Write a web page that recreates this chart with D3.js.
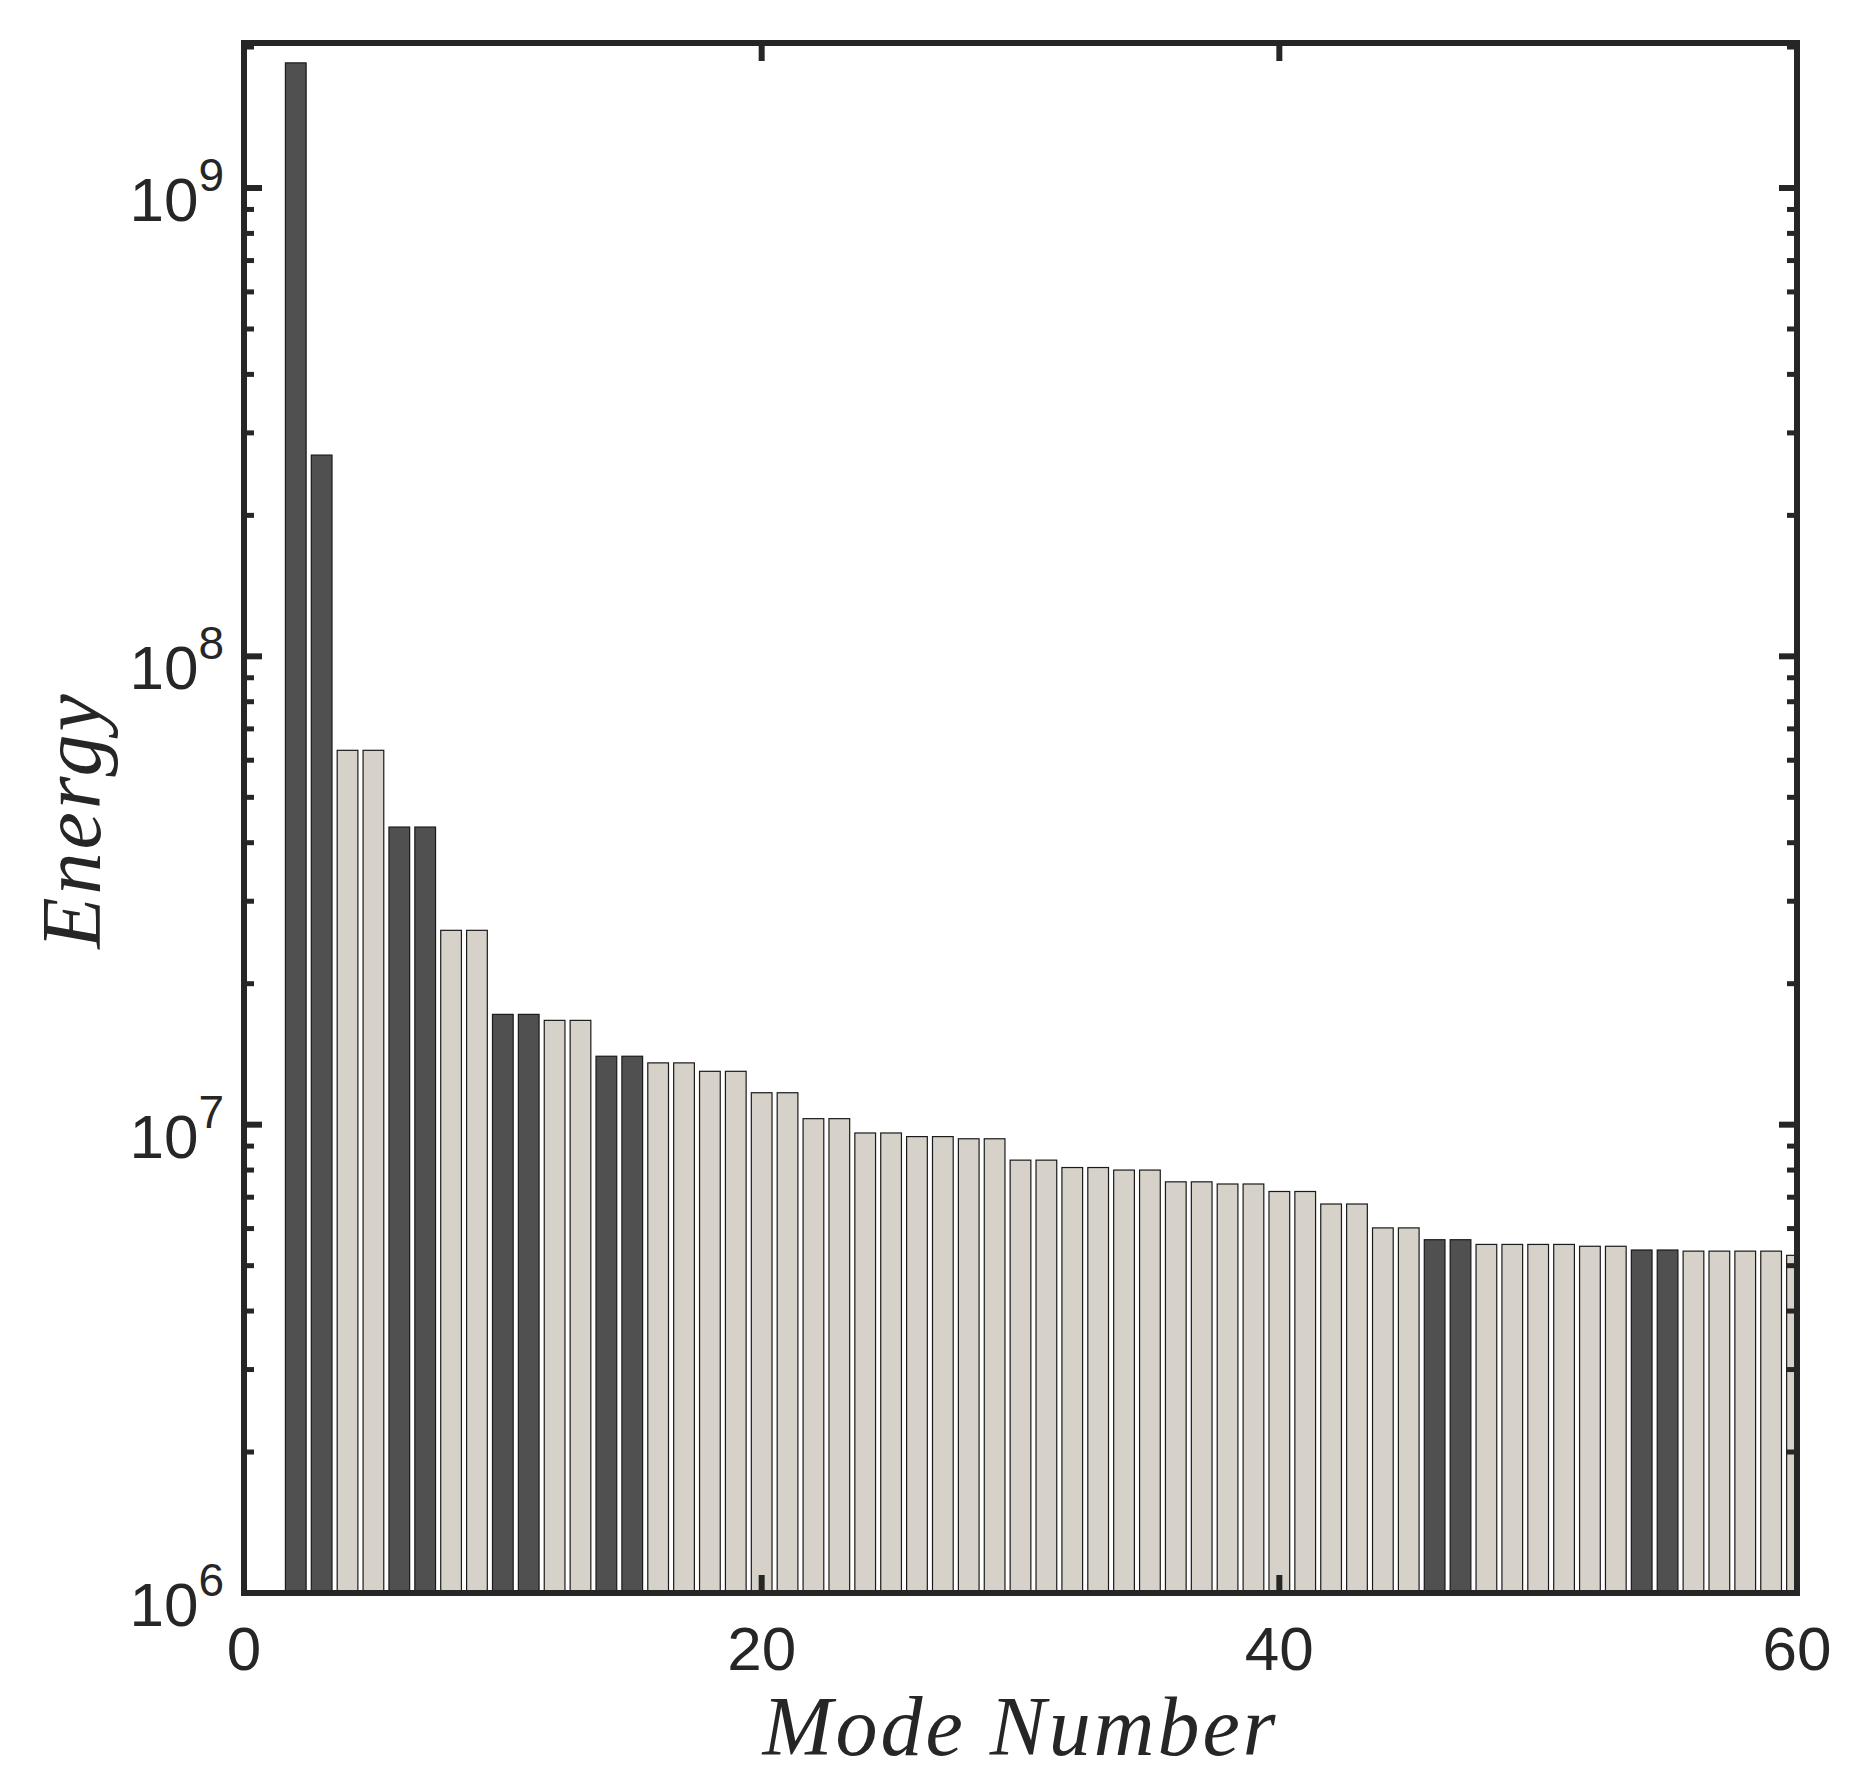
<!DOCTYPE html>
<html><head><meta charset="utf-8">
<script src="https://cdn.jsdelivr.net/npm/d3@7"></script>
<style>body{margin:0;background:#fff}</style></head>
<body><svg id="c" width="1855" height="1785"></svg>
<script>
const modes = d3.range(2, 61);
const energy = [1.85e9,2.69e8,6.3e7,6.3e7,4.32e7,4.32e7,2.6e7,2.6e7,1.72e7,1.72e7,1.67e7,1.67e7,1.40e7,1.40e7,1.355e7,1.355e7,1.30e7,1.30e7,1.17e7,1.17e7,1.03e7,1.03e7,9.6e6,9.6e6,9.43e6,9.43e6,9.33e6,9.33e6,8.4e6,8.4e6,8.1e6,8.1e6,8.0e6,8.0e6,7.55e6,7.55e6,7.47e6,7.47e6,7.2e6,7.2e6,6.77e6,6.77e6,6.02e6,6.02e6,5.68e6,5.68e6,5.55e6,5.55e6,5.55e6,5.55e6,5.5e6,5.5e6,5.4e6,5.4e6,5.37e6,5.37e6,5.37e6,5.37e6,5.26e6];
const darkModes = [2,3,6,7,10,11,14,15,46,47,54,55];
const xTicks = [0,20,40,60];
const yTicks = [1e6,1e7,1e8,1e9];

const L=244,R=1797,T=43,B=1593;
const svg=d3.select("#c");
const x=d3.scaleLinear().domain([0,60]).range([L,R]);
const y=d3.scaleLog().domain([1e6,2.04e9]).range([B,T]);
svg.append("defs").append("clipPath").attr("id","cl").append("rect").attr("x",L).attr("y",T).attr("width",R-L).attr("height",B-T);
const bw=(x(1)-x(0))*0.8;
svg.append("g").attr("clip-path","url(#cl)").selectAll("rect").data(modes).join("rect")
 .attr("x",d=>x(d)-bw/2).attr("width",bw)
 .attr("y",(d,i)=>y(energy[i])).attr("height",(d,i)=>B-y(energy[i]))
 .attr("fill",d=>darkModes.includes(d)?"#505050":"#d6d2c9")
 .attr("stroke","#1a1a1a").attr("stroke-width",1.2);
const col="#262626";
const g=svg.append("g");
const minors=[];
for(let e=6;e<=9;e++)for(let k=2;k<=9;k++){const v=k*Math.pow(10,e);if(v<=2.04e9)minors.push(v);}
minors.forEach(v=>{
 g.append("line").attr("x1",L).attr("x2",L+10).attr("y1",y(v)).attr("y2",y(v)).attr("stroke",col).attr("stroke-width",5);
 g.append("line").attr("x1",R).attr("x2",R-10).attr("y1",y(v)).attr("y2",y(v)).attr("stroke",col).attr("stroke-width",5);
});
yTicks.forEach(v=>{
 g.append("line").attr("x1",L).attr("x2",L+18).attr("y1",y(v)).attr("y2",y(v)).attr("stroke",col).attr("stroke-width",6);
 g.append("line").attr("x1",R).attr("x2",R-18).attr("y1",y(v)).attr("y2",y(v)).attr("stroke",col).attr("stroke-width",6);
 const t=g.append("text").attr("x",224).attr("y",y(v)+33).attr("text-anchor","end").attr("fill",col)
  .attr("font-family","Liberation Sans, Arial, sans-serif").attr("font-size",62);
 t.append("tspan").text("10");
 t.append("tspan").attr("font-size",46).attr("dy",-30).text(Math.round(Math.log10(v)));
});
xTicks.forEach(v=>{
 g.append("line").attr("x1",x(v)).attr("x2",x(v)).attr("y1",B).attr("y2",B-18).attr("stroke",col).attr("stroke-width",6);
 g.append("line").attr("x1",x(v)).attr("x2",x(v)).attr("y1",T).attr("y2",T+18).attr("stroke",col).attr("stroke-width",6);
 g.append("text").attr("x",x(v)).attr("y",1670).attr("text-anchor","middle").attr("fill",col)
  .attr("font-family","Liberation Sans, Arial, sans-serif").attr("font-size",62).text(v);
});
g.append("rect").attr("x",L).attr("y",T).attr("width",R-L).attr("height",B-T).attr("fill","none").attr("stroke",col).attr("stroke-width",6);
svg.append("text").attr("x",(L+R)/2).attr("y",1755).attr("text-anchor","middle").attr("fill",col)
 .attr("font-family","Liberation Serif, serif").attr("font-style","italic").attr("font-size",84).attr("letter-spacing",3).text("Mode Number");
svg.append("text").attr("transform","translate(100,820) rotate(-90)").attr("text-anchor","middle").attr("fill",col)
 .attr("font-family","Liberation Serif, serif").attr("font-style","italic").attr("font-size",84).attr("letter-spacing",3).text("Energy");
</script></body></html>
